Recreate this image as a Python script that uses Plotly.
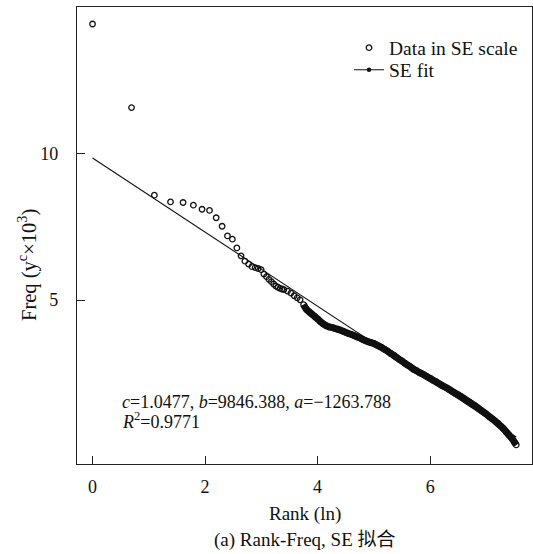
import plotly.graph_objects as go

# ---- data ----
ln_rank = [0.000, 0.693, 1.099, 1.386, 1.609, 1.792, 1.946, 2.079, 2.197, 2.303,
           2.398, 2.485, 2.565, 2.639, 2.708, 2.773, 2.833, 2.890, 2.944, 2.996,
           3.045, 3.091, 3.135, 3.178, 3.219, 3.258, 3.296, 3.332, 3.367, 3.401,
           3.466, 3.526, 3.584, 3.638, 3.689,
           3.75, 3.80, 3.85, 3.90, 3.95, 4.00, 4.05, 4.10, 4.15, 4.20,
           4.25, 4.30, 4.35, 4.40, 4.45, 4.50, 4.55, 4.60, 4.65, 4.70,
           4.75, 4.80, 4.85, 4.90, 4.95, 5.00, 5.05, 5.10, 5.15, 5.20,
           5.25, 5.30, 5.35, 5.40, 5.45, 5.50, 5.55, 5.60, 5.65, 5.70,
           5.75, 5.80, 5.85, 5.90, 5.95, 6.00, 6.05, 6.10, 6.15, 6.20,
           6.25, 6.30, 6.35, 6.40, 6.45, 6.50, 6.55, 6.60, 6.65, 6.70,
           6.75, 6.80, 6.85, 6.90, 6.95, 7.00, 7.05, 7.10, 7.15, 7.20,
           7.25, 7.30, 7.35, 7.40, 7.45, 7.50, 7.53]
freq_se = [14.42, 11.57, 8.58, 8.35, 8.33, 8.24, 8.10, 8.06, 7.81, 7.52,
           7.19, 7.08, 6.78, 6.51, 6.33, 6.23, 6.14, 6.11, 6.08, 6.04,
           5.89, 5.80, 5.71, 5.63, 5.55, 5.48, 5.44, 5.40, 5.38, 5.36,
           5.31, 5.24, 5.15, 5.08, 5.01,
           4.85, 4.69, 4.60, 4.52, 4.44, 4.36, 4.27, 4.19, 4.13, 4.09,
           4.07, 4.04, 4.01, 3.98, 3.94, 3.90, 3.86, 3.83, 3.79, 3.75,
           3.71, 3.66, 3.62, 3.58, 3.55, 3.52, 3.47, 3.42, 3.37, 3.31,
           3.25, 3.18, 3.12, 3.05, 2.98, 2.92, 2.85, 2.78, 2.72, 2.65,
           2.60, 2.54, 2.49, 2.44, 2.38, 2.33, 2.27, 2.22, 2.16, 2.10,
           2.05, 2.00, 1.94, 1.88, 1.82, 1.77, 1.71, 1.65, 1.58, 1.52,
           1.45, 1.39, 1.32, 1.25, 1.18, 1.11, 1.03, 0.96, 0.88, 0.80,
           0.71, 0.62, 0.51, 0.40, 0.29, 0.15, 0.06]

fit_x = [0.0, 7.53]
fit_y = [9.85, 0.33]

x_ticks = [0, 2, 4, 6]
y_ticks = [5, 10]

SERIF = "Liberation Serif, Times New Roman, Noto Sans CJK SC, serif"
INK = "#111111"

# dense tail of the data, where the circles merge into a solid band
tail_start = ln_rank.index(3.75)
tail_x = ln_rank[tail_start:]
tail_y = freq_se[tail_start:]

fig = go.Figure()
fig.add_trace(go.Scatter(
    x=tail_x, y=tail_y, mode="lines", showlegend=False, hoverinfo="skip",
    line=dict(color=INK, width=7, shape="spline", smoothing=0.6),
))
fig.add_trace(go.Scatter(
    x=ln_rank, y=freq_se, mode="markers", name="Data in SE scale", legend="legend",
    marker=dict(symbol="circle-open", size=5.5, color=INK, line=dict(width=1.3, color=INK)),
))
fig.add_trace(go.Scatter(
    x=fit_x, y=fit_y, mode="lines", showlegend=False,
    line=dict(color=INK, width=1.1),
))
fig.add_trace(go.Scatter(
    x=[None], y=[None], mode="lines+markers", name="SE fit", legend="legend2",
    line=dict(color=INK, width=1.1), marker=dict(size=4.5, color=INK),
))

axis_common = dict(
    showline=True, mirror=True, linecolor="#222222", linewidth=1.2,
    ticks="inside", ticklen=8, tickcolor="#222222", tickwidth=1,
    showgrid=False, zeroline=False,
    tickfont=dict(family=SERIF, size=18, color=INK),
)

legend_common = dict(
    xanchor="left", yanchor="middle", bgcolor="rgba(0,0,0,0)",
    font=dict(family=SERIF, size=19.5, color=INK), itemwidth=30,
)

fig.update_layout(
    width=533, height=554,
    margin=dict(l=77, r=1, t=7, b=90),
    paper_bgcolor="white", plot_bgcolor="white",
    font=dict(family=SERIF, size=18, color=INK),
    xaxis=dict(range=[-0.276, 7.81], tickvals=x_ticks, ticklabelstandoff=6, **axis_common),
    yaxis=dict(range=[-0.59, 15.0], tickvals=y_ticks, ticklabelstandoff=14, **axis_common),
    legend=dict(x=(349 - 77) / 455, y=(464 - 48) / 457, **legend_common),
    legend2=dict(x=(349 - 77) / 455, y=(464 - 70) / 457, **legend_common),
    showlegend=True,
)

fig.add_annotation(
    text="Freq (y<sup>c</sup>×10<sup>3</sup>)", textangle=-90,
    xref="paper", yref="paper", x=(27 - 77) / 455, y=(464 - 265) / 457,
    xanchor="center", yanchor="middle",
    showarrow=False, font=dict(family=SERIF, size=20.5, color=INK),
)
fig.add_annotation(
    text="Rank (ln)", xref="paper", yref="paper", x=0.5, y=(464 - 514) / 457,
    xanchor="center", yanchor="middle",
    showarrow=False, font=dict(family=SERIF, size=19, color=INK),
)
fig.add_annotation(
    text="(a) Rank-Freq, SE 拟合", xref="paper", yref="paper", x=0.5, y=(464 - 540) / 457,
    xanchor="center", yanchor="middle",
    showarrow=False, font=dict(family=SERIF, size=19, color=INK),
)
fig.add_annotation(
    text="<i>c</i>=1.0477, <i>b</i>=9846.388, <i>a</i>=−1263.788",
    xref="paper", yref="paper", x=(120 - 77) / 455, y=(464 - 402) / 457,
    xanchor="left", yanchor="middle", showarrow=False,
    font=dict(family=SERIF, size=18, color=INK),
)
fig.add_annotation(
    text="<i>R</i><sup>2</sup>=0.9771",
    xref="paper", yref="paper", x=(120 - 77) / 455, y=(464 - 420) / 457,
    xanchor="left", yanchor="middle", showarrow=False,
    font=dict(family=SERIF, size=18, color=INK),
)

fig.write_html("out.html")
